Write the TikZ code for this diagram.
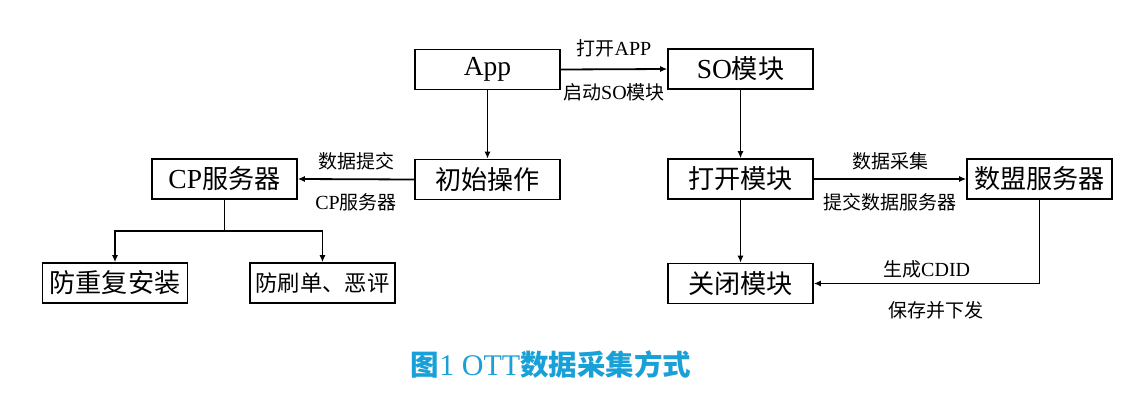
\documentclass[tikz,border=0pt]{standalone}
\usepackage{fontspec}
\setmainfont{Liberation Serif}
\newfontfamily\cjk{Noto Sans CJK SC}[Scale=0.95]
\usepackage{tikz}
\usetikzlibrary{arrows.meta,positioning,calc}
\usepackage{xcolor}
\definecolor{captionblue}{RGB}{25,160,215}
\newcommand{\zhtext}[1]{{\cjk #1}}

\begin{document}
\begin{tikzpicture}[
    x=1pt, y=-1pt,
    >={Latex[length=7pt,width=6pt]},
    line width=1.8pt,
    box/.style={rectangle, draw, line width=1.6pt, minimum width=145pt, minimum height=40pt, inner sep=0pt, font=\fontsize{27.5}{30}\selectfont},
    lbl/.style={font=\fontsize{20}{22}\selectfont, inner sep=0pt}
]
    \useasboundingbox (0,0) rectangle (1134,415);

    % Top row
    \node[box] (app) at (487.5,69.5) {App};
    \node[box] (so) at (740.5,69) {SO\zhtext{模块}};

    % Left branch
    \node[box] (init) at (487.5,179.5) {\zhtext{初始操作}};
    \node[box] (cp) at (224.5,179) {CP\zhtext{服务器}};
    \node[box] (noreinstall) at (115,283) {\zhtext{防重复安装}};
    \node[box, font=\fontsize{23.5}{30}\selectfont] (nofraud) at (322.5,283) {\zhtext{防刷单、恶评}};

    % Right branch
    \node[box] (openmod) at (740.5,179) {\zhtext{打开模块}};
    \node[box] (sumeng) at (1039.5,179) {\zhtext{数盟服务器}};
    \node[box] (closemod) at (740.5,283.5) {\zhtext{关闭模块}};

    % Edges
    \draw[->] (app.east) -- (so.west)
        node[lbl, midway, above=11pt] (lblopen) {\zhtext{打开}APP}
        node[lbl, midway, below=13pt] (lblstart) {\zhtext{启动}SO\zhtext{模块}};
    \draw[->] (app) -- (init);
    \draw[->] (init.west) -- (cp.east)
        node[lbl, midway, above=8pt] (lblsubmit) {\zhtext{数据提交}}
        node[lbl, midway, below=13pt] (lblcp) {CP\zhtext{服务器}};
    \coordinate (cpsplit) at ($(cp.south)+(0,31)$);
    \draw (cp.south) -- (cpsplit);
    \draw[->] (cpsplit) -| (noreinstall.north);
    \draw[->] (cpsplit) -| (nofraud.north);

    \draw[->] (so) -- (openmod);
    \draw[->] (openmod.east) -- (sumeng.west)
        node[lbl, midway, above=8pt] (lblcollect) {\zhtext{数据采集}}
        node[lbl, midway, below=13pt] (lblsend) {\zhtext{提交数据服务器}};
    \draw[->] (openmod) -- (closemod);
    \draw[->] (sumeng.south) |- (closemod.east)
        node[lbl, pos=0.75, above=4pt] (lblcdid) {\zhtext{生成}CDID}
        node[lbl, pos=0.73, below=17pt] (lblsave) {\zhtext{保存并下发}};

    % Caption
    \node[font=\fontsize{30}{32}\selectfont, text=captionblue, inner sep=0pt] (caption) at (551,365)
        {{\cjk\bfseries 图}1 OTT{\cjk\bfseries 数据采集方式}};
\end{tikzpicture}
\end{document}
